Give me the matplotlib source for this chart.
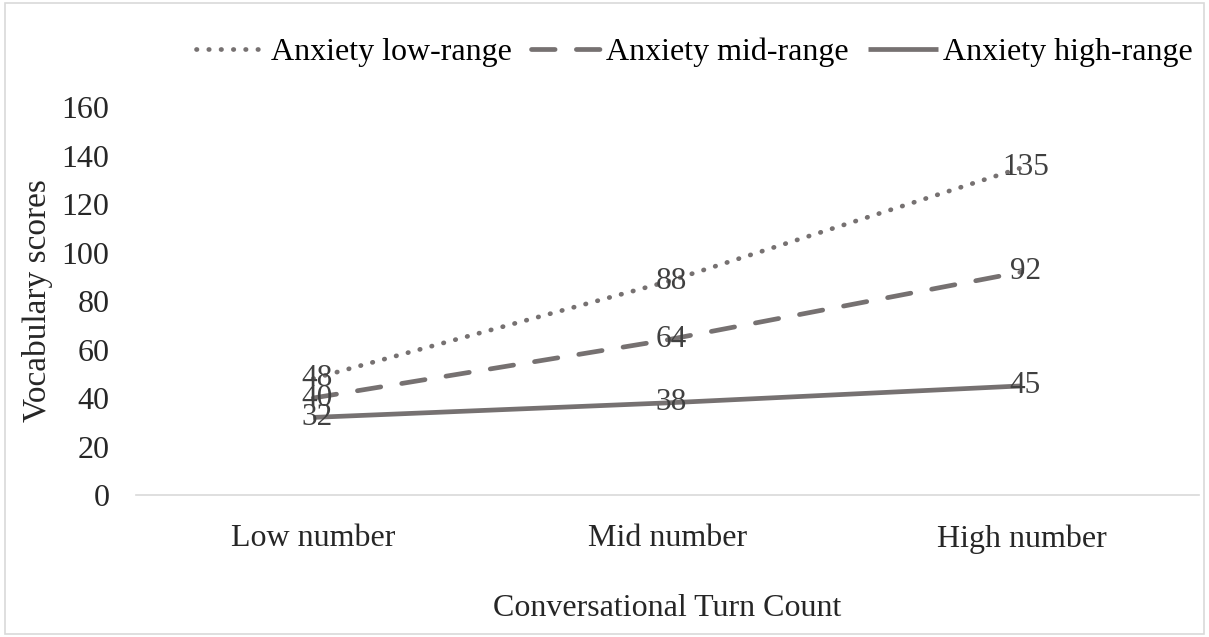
import matplotlib.pyplot as plt
from matplotlib.patches import Rectangle

plt.rcParams['font.family'] = ['Liberation Serif', 'DejaVu Serif']

categories = ['Low number', 'Mid number', 'High number']
series_names = ['Anxiety low-range', 'Anxiety mid-range', 'Anxiety high-range']
low_range = [48, 88, 135]
mid_range = [40, 64, 92]
high_range = [32, 38, 45]
y_ticks = [0, 20, 40, 60, 80, 100, 120, 140, 160]

color = '#767171'
text_color = '#262626'
fs = 23

fig = plt.figure(figsize=(12.09, 6.37), dpi=100)
ax = fig.add_axes([0.1125, 0.2229, 0.8792, 0.6091])

x = list(range(len(categories)))
styles = [
    dict(linestyle=(0, (0.1, 2.5)), dash_capstyle='round'),
    dict(linestyle=(0, (5, 4.5)), dash_capstyle='round'),
    dict(linestyle='-', solid_capstyle='butt'),
]
for vals, name, st in zip([low_range, mid_range, high_range], series_names, styles):
    ax.plot(x, vals, color=color, lw=3.4, label=name, **st)
    for xi, v in zip(x, vals):
        ax.text(xi + 0.01, v, str(v), ha='center', va='center', fontsize=22.5,
                color='#404040')

ax.set_xlim(-0.5, 2.5)
ax.set_ylim(0, 160)
ax.set_yticks(y_ticks)
ax.set_xticks(x)
ax.set_xticklabels(categories)
ax.tick_params(axis='both', length=0, labelsize=fs, labelcolor=text_color)
ax.tick_params(axis='x', pad=21)
ax.tick_params(axis='y', pad=19)
for s in ['top', 'right', 'left']:
    ax.spines[s].set_visible(False)
ax.spines['bottom'].set_color('#d9d9d9')
ax.spines['bottom'].set_linewidth(1.2)

ax.set_xlabel('Conversational Turn Count', fontsize=fs, color=text_color, labelpad=29)
ax.set_ylabel('Vocabulary scores', fontsize=24, color=text_color, labelpad=6)

leg = fig.legend(loc='center', bbox_to_anchor=(0.574, 0.918), ncol=3, frameon=False,
                 fontsize=fs, handlelength=2.2, handletextpad=0.15, columnspacing=0.6,
                 labelcolor='black')

fig.patches.append(Rectangle((0.004, 0.004), 0.992, 0.992, transform=fig.transFigure,
                             fill=False, edgecolor='#d9d9d9', lw=1.2))

fig.savefig('out.png', dpi=100)
